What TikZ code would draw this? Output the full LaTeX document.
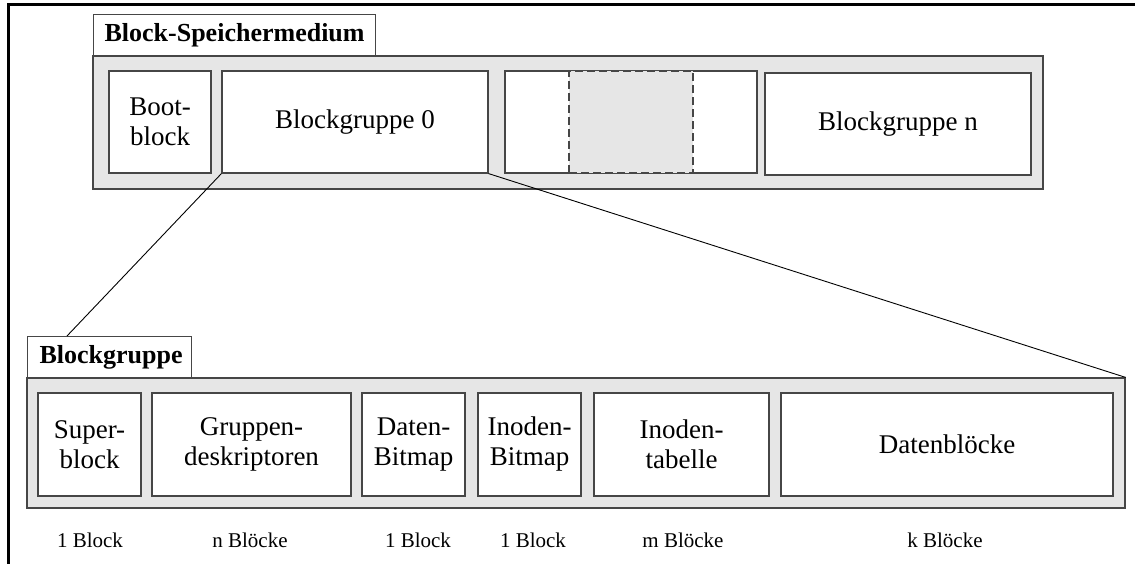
\documentclass[tikz,border=0pt]{standalone}
\usepackage{fontspec}
\setmainfont{Liberation Serif}
\definecolor{panelgray}{RGB}{230,230,230}
\definecolor{edgegray}{RGB}{70,70,70}
\tikzset{
  frameline/.style={line width=3pt, black},
  panel/.style={draw=edgegray, line width=1.2pt, fill=panelgray, inner sep=0pt},
  tab/.style={draw=edgegray, line width=1.2pt, fill=white, inner xsep=11pt, inner ysep=0pt,
    align=left, minimum height=42pt, anchor=north west,
    font=\fontsize{26}{30}\selectfont\bfseries},
  cell/.style={draw=edgegray, line width=1.2pt, fill=white, inner sep=0pt, align=center,
    font=\fontsize{27}{30}\selectfont},
  gapcell/.style={draw=edgegray, line width=1.2pt, dash pattern=on 8pt off 4pt,
    fill=panelgray, inner sep=0pt},
  sizelabel/.style={font=\fontsize{21}{24}\selectfont, inner sep=0pt},
  zoomline/.style={line width=0.9pt, black}
}
\begin{document}
\begin{tikzpicture}[x=1pt, y=-1pt]
  \useasboundingbox (0,0) rectangle (1135,564);

  % outer frame (top and left edges)
  \draw[frameline] (8,564) -- (8,5) -- (1135,5);

  % ---------- block storage medium ----------
  \node[tab, text width=260pt] (medtab) at (93,14) {Block-Speichermedium};
  \node[panel, minimum width=950pt, minimum height=133pt] (medium) at (568,122.5) {};
  \node[cell, minimum width=102pt, minimum height=102pt] (boot) at (160,122) {Boot-\\block};
  \node[cell, minimum width=266pt, minimum height=102pt] (bg0) at (355,122) {Blockgruppe 0};
  \node[cell, minimum width=252pt, minimum height=102pt] (bgmid) at (631,122) {};
  \node[gapcell, minimum width=124pt, minimum height=102pt] (gap) at (631,122) {};
  \node[cell, minimum width=266pt, minimum height=102pt] (bgn) at (898,124) {Blockgruppe n};

  % ---------- block group ----------
  \node[tab, text width=140pt, inner xsep=12pt] (grptab) at (27,336) {Blockgruppe};
  \node[panel, minimum width=1098pt, minimum height=130pt] (group) at (576,443) {};
  \node[cell, minimum width=103pt, minimum height=103pt] (super) at (89.5,444.5) {Super-\\block};
  \node[cell, minimum width=199pt, minimum height=103pt] (gdesc) at (251.5,444.5) {Gruppen-\\deskriptoren};
  \node[cell, minimum width=103pt, minimum height=103pt] (dbmp) at (413.5,444.5) {Daten-\\Bitmap};
  \node[cell, minimum width=103pt, minimum height=103pt] (ibmp) at (529.5,444.5) {Inoden-\\Bitmap};
  \node[cell, minimum width=175pt, minimum height=103pt] (itab) at (681.5,444.5) {Inoden-\\tabelle};
  \node[cell, minimum width=332pt, minimum height=103pt] (data) at (947,444.5) {Datenblöcke};

  % sizes of the parts
  \node[sizelabel] (lsuper) at (90,540) {1 Block};
  \node[sizelabel] (lgdesc) at (250,540) {n Blöcke};
  \node[sizelabel] (ldbmp) at (418,540) {1 Block};
  \node[sizelabel] (libmp) at (533,540) {1 Block};
  \node[sizelabel] (litab) at (683,540) {m Blöcke};
  \node[sizelabel] (ldata) at (945,540) {k Blöcke};

  % zoom lines from block group 0 to its detailed view
  \coordinate (grptop) at ([xshift=40pt]grptab.north west);
  \draw[zoomline] (bg0.south west) -- (grptop);
  \draw[zoomline] (bg0.south east) -- (group.north east);
\end{tikzpicture}
\end{document}
